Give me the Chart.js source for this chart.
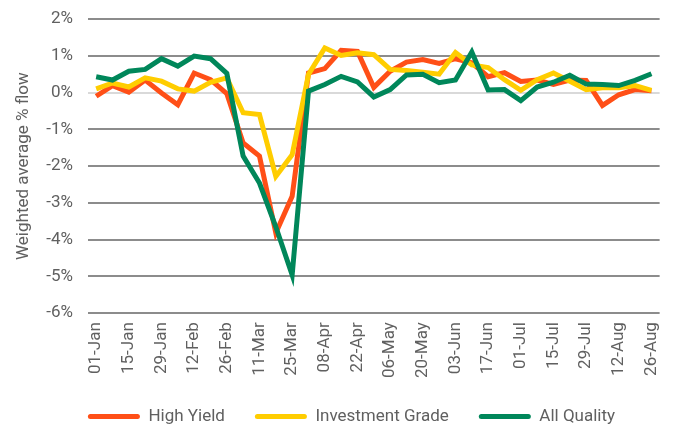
<!DOCTYPE html>
<html>
<head>
<meta charset="utf-8">
<script src="https://cdn.jsdelivr.net/npm/chart.js@4.4.1/dist/chart.umd.min.js"></script>
<style>
  html, body { margin: 0; padding: 0; background: #fff; }
  #wrap { width: 681px; height: 424px; position: relative; }
</style>
</head>
<body>
<div id="wrap"><canvas id="flowChart"></canvas></div>
<script>
// weekly dates, tick labels shown every other week
const weeks = [
  "01-Jan", "08-Jan", "15-Jan", "22-Jan", "29-Jan", "05-Feb", "12-Feb", "19-Feb", "26-Feb",
  "04-Mar", "11-Mar", "18-Mar", "25-Mar", "01-Apr", "08-Apr", "15-Apr", "22-Apr", "29-Apr",
  "06-May", "13-May", "20-May", "27-May", "03-Jun", "10-Jun", "17-Jun", "24-Jun", "01-Jul",
  "08-Jul", "15-Jul", "22-Jul", "29-Jul", "05-Aug", "12-Aug", "19-Aug", "26-Aug"
];

const highYield = [
  -0.10, 0.19, 0.01, 0.34, -0.01, -0.33, 0.53, 0.35, -0.03, -1.37, -1.73, -3.82, -2.82,
  0.53, 0.65, 1.15, 1.12, 0.14, 0.58, 0.83, 0.90, 0.79, 0.92, 0.81, 0.43, 0.54, 0.30,
  0.34, 0.22, 0.34, 0.33, -0.35, -0.06, 0.08, 0.05
];

const investmentGrade = [
  0.10, 0.26, 0.15, 0.40, 0.31, 0.10, 0.04, 0.28, 0.40, -0.55, -0.60, -2.28, -1.69,
  0.49, 1.21, 1.01, 1.08, 1.03, 0.63, 0.60, 0.55, 0.50, 1.09, 0.75, 0.68, 0.35, 0.06,
  0.35, 0.53, 0.31, 0.08, 0.13, 0.13, 0.19, 0.06
];

const allQuality = [
  0.43, 0.34, 0.58, 0.63, 0.92, 0.72, 0.99, 0.92, 0.52, -1.73, -2.46, -3.65, -4.96,
  0.04, 0.22, 0.44, 0.29, -0.12, 0.08, 0.48, 0.50, 0.27, 0.34, 1.10, 0.07, 0.08, -0.22,
  0.15, 0.28, 0.47, 0.23, 0.22, 0.19, 0.33, 0.51
];

const textGrey = "#606060";
const fontFamily = "Roboto, 'Liberation Sans', sans-serif";

function serie(label, data, color, order) {
  return {
    label: label,
    data: data,
    borderColor: color,
    backgroundColor: color,
    borderWidth: 5,
    pointRadius: 0,
    tension: 0,
    order: order,
  };
}

// legend sits a bit right of centre and close under the labels in the original
const legendShift = {
  id: "legendShift",
  afterLayout(chart) {
    const lg = chart.legend;
    lg.left += 11;
    lg.right += 11;
    lg.top -= 9;
    lg.bottom = chart.height;
  },
};

const ctx = document.getElementById("flowChart").getContext("2d");
new Chart(ctx, {
  type: "line",
  data: {
    labels: weeks,
    datasets: [
      serie("High Yield", highYield, "#ff4f17", 2),
      serie("Investment Grade", investmentGrade, "#ffcd00", 1),
      serie("All Quality", allQuality, "#00875a", 0),
    ],
  },
  plugins: [legendShift],
  options: {
    responsive: true,
    maintainAspectRatio: false,
    animation: false,
    layout: { padding: { left: 10, right: 10, top: 0, bottom: 0 } },
    plugins: {
      tooltip: { enabled: false },
      legend: {
        position: "bottom",
        maxHeight: 37,
        labels: {
          boxWidth: 52,
          boxHeight: 5,
          useBorderRadius: true,
          borderRadius: 2.5,
          padding: 30,
          color: textGrey,
          font: { family: fontFamily, size: 17 },
          generateLabels: (chart) =>
            Chart.defaults.plugins.legend.labels
              .generateLabels(chart)
              .map((l) => ({ ...l, lineWidth: 0 })),
          sort: (a, b) => a.datasetIndex - b.datasetIndex,
        },
      },
    },
    scales: {
      x: {
        offset: true,
        grid: { display: false, drawTicks: false, tickLength: 0 },
        border: { display: false },
        ticks: {
          autoSkip: false,
          minRotation: 90,
          maxRotation: 90,
          padding: 9,
          color: textGrey,
          font: { family: fontFamily, size: 17 },
          callback: function (value, index) {
            return index % 2 === 0 ? weeks[index] : "";
          },
        },
      },
      y: {
        min: -6,
        max: 2,
        border: { display: false },
        afterFit: (scale) => {
          scale.width = 78;
          scale.paddingTop = 19;
        },
        grid: {
          color: (c) => (c.tick && c.tick.value === 0 ? "#d9d9d9" : "#8c8c8c"),
          lineWidth: 2,
          drawTicks: false,
        },
        ticks: {
          stepSize: 1,
          padding: 15,
          color: textGrey,
          font: { family: fontFamily, size: 17 },
          callback: (v) => v + "%",
        },
        title: {
          display: true,
          text: "Weighted average % flow",
          color: textGrey,
          font: { family: fontFamily, size: 17 },
        },
      },
    },
  },
});
</script>
</body>
</html>
